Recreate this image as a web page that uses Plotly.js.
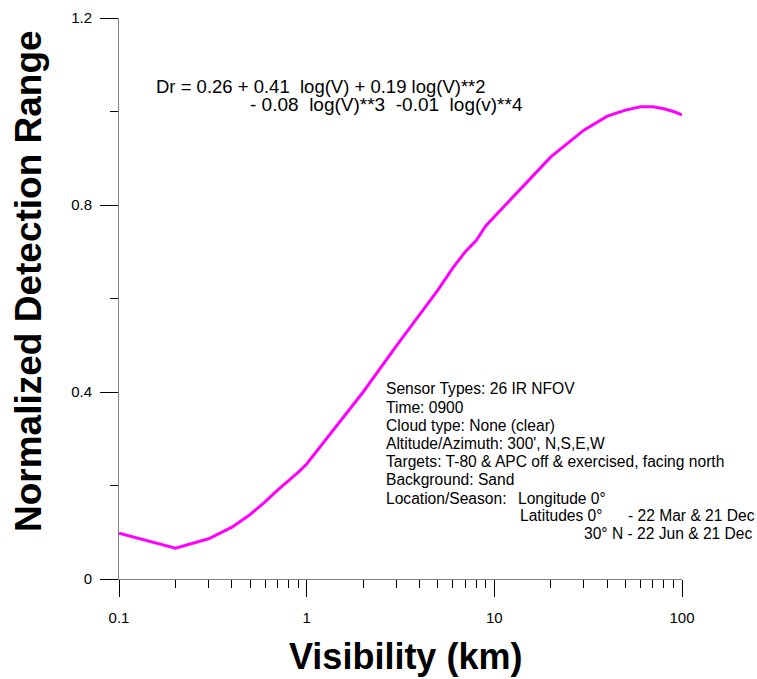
<!DOCTYPE html>
<html>
<head>
<meta charset="utf-8">
<script src="https://cdn.plot.ly/plotly-3.0.1.min.js"></script>
<style>html,body{margin:0;padding:0;background:#fff;}#chart{width:757px;height:679px;}</style>
</head>
<body>
<div id="chart"></div>
<script>
// Visibility (km)
const visibility = [0.1,0.2,0.3,0.4,0.5,0.6,0.7,0.8,0.9,1,2,3,4,5,6,7,8,9,10,20,30,40,50,60,70,80,90,100];
// Normalized detection range
const detectionRange = [0.098,0.066,0.086,0.111,0.138,0.165,0.19,0.21,0.228,0.246,0.40,0.498,0.565,0.618,0.665,0.70,0.724,0.755,0.775,0.903,0.960,0.990,1.003,1.010,1.010,1.006,1.000,0.993];

const xTitle = "Visibility (km)";
const yTitle = "Normalized Detection Range";
const equationLines = ["Dr = 0.26 + 0.41  log(V) + 0.19 log(V)**2", "- 0.08  log(V)**3  -0.01  log(v)**4"];
const infoLines = [
  "Sensor Types: 26 IR NFOV",
  "Time: 0900",
  "Cloud type: None (clear)",
  "Altitude/Azimuth: 300', N,S,E,W",
  "Targets: T-80 & APC off & exercised, facing north",
  "Background: Sand",
  "Location/Season:"
];
const infoExtra = ["Longitude 0°", "Latitudes 0°", "- 22 Mar & 21 Dec", "30° N - 22 Jun & 21 Dec"];

const L = 119, R = 682, T = 18, B = 579;
const px = p => (p - L) / (R - L);
const py = p => (B - p) / (B - T);
const FONT = "Arial, 'Liberation Sans', sans-serif";

const annotations = [];
function txt(text, x, y, size, opts) {
  annotations.push(Object.assign({
    text: text, xref: 'paper', yref: 'paper', x: px(x), y: py(y),
    xanchor: 'left', yanchor: 'middle', showarrow: false,
    font: {family: FONT, size: size, color: '#000'}
  }, opts || {}));
}
txt(equationLines[0], 154, 86, 18.5);
txt(equationLines[1], 248, 104, 19);
const infoY = [388, 407, 425, 443, 461, 479, 498];
infoLines.forEach((s, i) => txt(s, 384, infoY[i], 15.6));
txt(infoExtra[0], 516, 498, 15.6);
txt(infoExtra[1], 518, 515, 15.6);
txt(infoExtra[2], 626, 515, 15.6);
txt(infoExtra[3], 582, 533, 15.6);
txt("<b>" + yTitle + "</b>", 28, 281, 37, {xanchor: 'center', textangle: -90});
txt("<b>" + xTitle + "</b>", 405.5, 656, 36, {xanchor: 'center'});

const data = [{
  x: visibility, y: detectionRange, type: 'scatter', mode: 'lines',
  line: {color: '#ff00ff', width: 3}, hoverinfo: 'skip'
}];

const layout = {
  width: 757, height: 679, autosize: false,
  margin: {l: L, r: 757 - R, t: T, b: 679 - B, pad: 0},
  paper_bgcolor: '#fff', plot_bgcolor: '#fff',
  showlegend: false,
  font: {family: FONT, size: 15, color: '#000'},
  xaxis: {
    type: 'log', range: [-1, 2], dtick: 1,
    showgrid: false, zeroline: false,
    showline: true, linecolor: '#808080', linewidth: 1,
    ticks: 'outside', ticklen: 17, tickcolor: '#000', tickwidth: 1,
    ticklabelstandoff: 8,
    tickfont: {family: FONT, size: 15, color: '#000'},
    minor: {ticks: 'outside', ticklen: 8, tickcolor: '#000', tickwidth: 1, dtick: 'D1', showgrid: false}
  },
  yaxis: {
    range: [0, 1.2], dtick: 0.4, tick0: 0,
    showgrid: false, zeroline: false,
    showline: true, linecolor: '#808080', linewidth: 1,
    ticks: 'outside', ticklen: 18, tickcolor: '#000', tickwidth: 1,
    ticklabelstandoff: 5,
    tickfont: {family: FONT, size: 15, color: '#000'},
    minor: {ticks: 'outside', ticklen: 8, tickcolor: '#000', tickwidth: 1, dtick: 0.2, showgrid: false}
  },
  annotations: annotations
};

Plotly.newPlot('chart', data, layout, {staticPlot: true, displayModeBar: false});
</script>
</body>
</html>
